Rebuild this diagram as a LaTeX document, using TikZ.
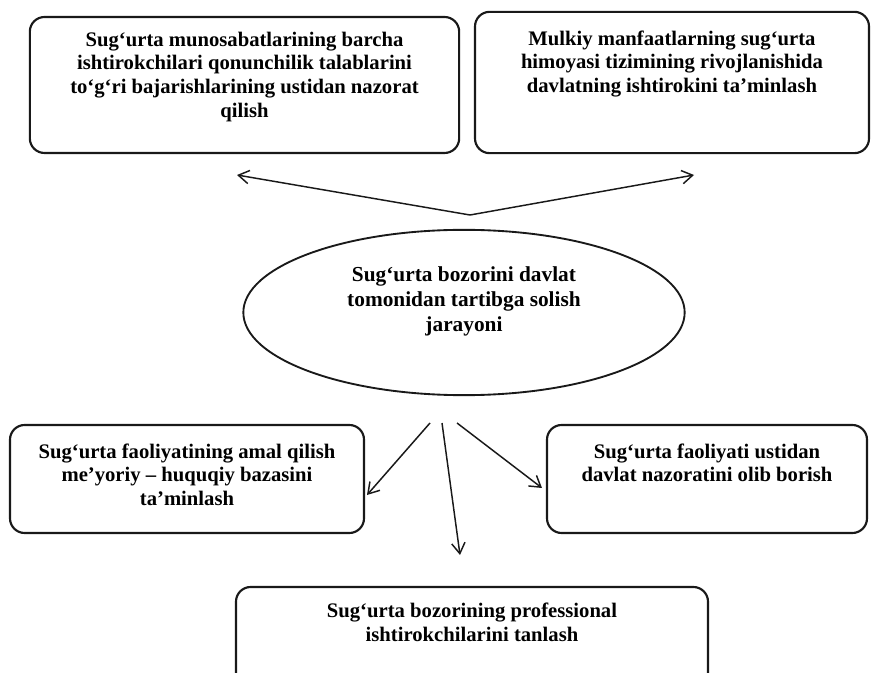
\documentclass[tikz,border=0pt]{standalone}
\usepackage{fontspec}
\setmainfont{Liberation Serif}
\usetikzlibrary{arrows.meta,shapes.geometric}

\newcommand{\boxtext}[4]{\parbox[c][#1][t]{#2}{\centering\vspace*{#3}#4}}

\begin{document}
\begin{tikzpicture}[x=0.75pt, y=-0.75pt]
\tikzstyle{box}=[rectangle, rounded corners=11pt, draw=black!90, line width=1.6pt, inner sep=0pt, font=\fontsize{15.5}{17.8}\selectfont\bfseries]
\tikzstyle{main}=[ellipse, draw=black!90, line width=1.4pt, inner sep=0pt, minimum width=331pt, minimum height=124pt, font=\fontsize{16}{18.5}\selectfont\bfseries]
\tikzstyle{connect}=[-{Straight Barb[length=8pt,width=10pt]}, line width=1.1pt, black!90]

% 1. Frame
%%%%%%%%%%
\clip (0,0) rectangle (871,673);

% 2. Nodes
%%%%%%%%%%
\node[main] (process) at (464,312.5) {\boxtext{80pt}{215pt}{6pt}{Sug‘urta bozorini davlat\\ tomonidan tartibga solish\\ jarayoni}};

\node[box] (control) at (244.5,85) {\boxtext{102pt}{322pt}{11pt}{Sug‘urta munosabatlarining barcha\\ ishtirokchilari qonunchilik talablarini\\ to‘g‘ri bajarishlarining ustidan nazorat\\ qilish}};
\node[box] (state) at (672,82.5) {\boxtext{106pt}{295.5pt}{14pt}{Mulkiy manfaatlarning sug‘urta\\ himoyasi tizimining rivojlanishida\\ davlatning ishtirokini ta’minlash}};
\node[box] (legal) at (187,479) {\boxtext{81pt}{265.5pt}{14pt}{Sug‘urta faoliyatining amal qilish\\ me’yoriy – huquqiy bazasini\\ ta’minlash}};
\node[box] (supervise) at (707,479) {\boxtext{81pt}{240pt}{14pt}{Sug‘urta faoliyati ustidan\\ davlat nazoratini olib borish}};
\node[box] (select) at (472,642) {\boxtext{82.5pt}{354pt}{12pt}{Sug‘urta bozorining professional\\ ishtirokchilarini tanlash}};

% 3. Arrow ends
%%%%%%%%%%%%%%%
\coordinate (apex) at (470,215);
\coordinate (upL) at (237,175);
\coordinate (upR) at (694,175);
\coordinate (outL) at (430,423);
\coordinate (outM) at (442,423);
\coordinate (outR) at (457,423);
\coordinate (inL) at (367,495);
\coordinate (inM) at (460,555);
\coordinate (inR) at (542,488);

% 4. Arrows
%%%%%%%%%%%
\path (apex) edge [connect] (upL)
      (apex) edge [connect] (upR)
      (outL) edge [connect] (inL)
      (outM) edge [connect] (inM)
      (outR) edge [connect] (inR);

\end{tikzpicture}
\end{document}
